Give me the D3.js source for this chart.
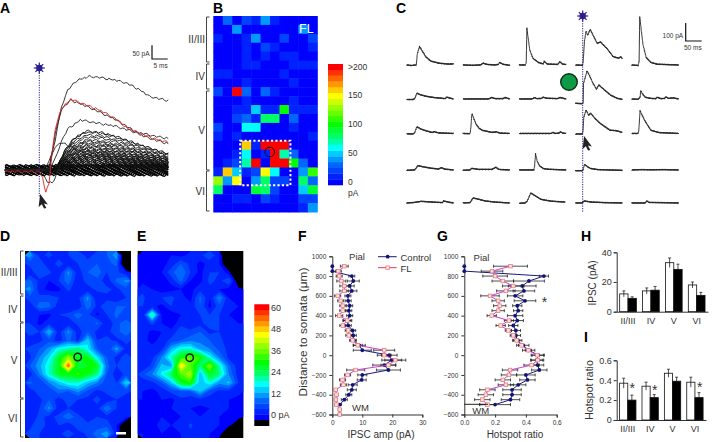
<!DOCTYPE html>
<html>
<head>
<meta charset="utf-8">
<script src="https://cdn.jsdelivr.net/npm/d3@7"></script>
<style>
  html, body { margin: 0; padding: 0; background: #fff; }
  svg { display: block; }
  text { font-family: "Liberation Sans", Arial, sans-serif; fill: #333; }
  .letter { font-size: 14px; font-weight: bold; fill: #000; }
  .axis path, .axis line { stroke: #333; stroke-width: 1; fill: none; }
  .axis text { font-size: 6.5px; fill: #333; }
</style>
</head>
<body>
<svg id="fig" width="716" height="442"></svg>
<script>
// ---- data ----
var layers = ["II/III", "IV", "V", "VI"];
var palette = ["#0000ff","#0022ff","#0044ff","#0066ff","#0099ff","#00ccff","#00ffff","#00ffaa","#00ff66","#00ff33",
  "#00ff00","#33ff00","#66ff00","#99ff00","#ccff00","#ffff00","#ffcc00","#ff9900","#ff6600","#ff3300","#ff0000"];

// panel A, [ms, pA]
var traceTop = [[-11,0],[0,0],[3,5],[5,109],[7,231],[9,292],[12,328],[16,341],[19,338],[24,328],[28,316],[32,292],[35,268],[41,253]];
var traceRed = [[-11,-6],[0,-6],[1,-30],[2,-83],[3,-50],[4,60],[5,150],[7,225],[10,258],[15,237],[19,219],[24,189],[28,152],[32,134],[36,116],[41,100]];
var traceSecond = [[-11,0],[3,0],[5,130],[7,222],[10,255],[15,232],[19,212],[24,185],[28,158],[32,128],[36,112],[41,96]];
var traceThird = [[-11,0],[0,0],[3,-5],[5,40],[7,105],[9,150],[13,182],[18,172],[24,160],[30,140],[36,125],[41,115]];
var traceDip = [[-11,-3],[1,-5],[2,-35],[3,-48],[4,-46],[5,-30],[6,5],[8,45],[11,60],[20,55],[30,35],[41,25]];
var traceEarly = [[-11,0],[1,0],[3,30],[5,85],[7,100],[10,85],[13,70],[20,62],[30,45],[41,30]];
var clusterShape = [[-11,0],[4,0],[6,0.15],[8,0.5],[11,0.82],[15,1],[20,0.96],[26,0.82],[33,0.62],[41,0.42]];
var clusterAmps = [142,138,128,120,110,104,98,92,88,82,78,74,70,66,62,58,55,52,50,48,45,42,40,38,35,32,30,28,25,22,20,18,15,12,10];
var baseOffsets = [-17,-14,-11,-8,-5,-2,1,4,7,10,13,16];
var noise = [2,-3,1,4,-2,-4,3,0,-1,3,-3,2,4,-1,-3,1];

// panel B, pA per cell
var mapB = [
  [0,30,0,25,10,40,15,0,0,0,0],
  [0,0,45,0,0,0,0,0,0,40,0],
  [15,0,0,10,40,0,0,20,0,0,25],
  [0,0,0,10,0,20,10,0,0,0,10],
  [0,0,0,10,0,10,0,10,15,0,0],
  [0,0,0,10,10,5,0,0,10,10,10],
  [15,15,0,0,0,0,5,15,0,0,0],
  [0,0,0,10,0,0,0,0,10,0,0],
  [25,0,200,35,0,35,15,0,5,0,0],
  [0,0,0,10,0,0,0,0,10,0,0],
  [0,0,15,15,50,15,15,100,15,15,15],
  [0,0,20,35,15,85,85,0,35,0,0],
  [25,0,0,65,65,0,0,0,10,0,0],
  [15,0,10,0,0,0,0,0,0,0,10],
  [0,0,0,160,15,200,200,200,0,0,0],
  [0,0,10,60,5,10,200,70,35,0,0],
  [0,10,20,75,200,5,200,200,100,30,0],
  [10,160,55,10,20,155,60,0,0,45,115],
  [135,45,155,0,45,85,20,20,0,85,30],
  [80,0,0,0,95,80,20,0,0,55,90],
  [0,0,15,15,0,25,10,0,0,20,20],
  [0,0,0,0,0,0,0,0,0,10,45]
];

// panel C, [ms, pA] per trace, row by row
var cellTraces = [
  [[0,0],[15,-3],[30,0],[33,60],[40,102],[48,80],[60,45],[75,22],[100,10],[130,5],[146,6]],
  [[0,0],[30,-2],[55,0],[63,10],[75,3],[100,0],[112,4],[114,15],[125,4],[146,-2]],
  [[0,0],[20,0],[22,20],[24,204],[28,150],[33,83],[43,37],[60,14],[75,6],[78,20],[88,5],[120,3],[127,18],[135,5],[146,2]],
  [[0,0],[22,-2],[24,20],[28,130],[33,190],[38,165],[46,198],[55,165],[68,120],[78,128],[98,92],[118,46],[135,38],[142,46],[146,36]],
  [[0,0],[20,-3],[23,20],[25,270],[30,190],[35,115],[45,42],[60,14],[80,4],[146,0]],

  [[0,-3],[20,-3],[25,2],[32,32],[42,24],[60,15],[85,8],[120,2],[125,10],[135,5],[146,0]],
  [[0,0],[80,0],[90,8],[100,2],[125,2],[132,8],[146,0]],
  [[0,0],[40,0],[48,8],[55,2],[70,3],[75,10],[85,4],[120,2],[128,8],[146,0]],
  [[0,-24],[18,-26],[24,-24],[25,86],[30,116],[36,156],[45,126],[55,86],[66,54],[73,78],[90,51],[110,21],[130,4],[146,-2]],
  [[0,0],[20,-2],[26,10],[28,46],[35,25],[42,10],[60,3],[75,2],[80,10],[90,2],[103,3],[107,12],[115,3],[130,6],[146,0]],

  [[0,-2],[20,-3],[25,5],[32,37],[45,24],[60,15],[80,5],[86,10],[100,3],[146,0]],
  [[0,0],[22,-1],[24,20],[28,111],[40,55],[50,30],[60,18],[90,6],[105,9],[115,2],[146,0]],
  [[0,0],[100,0],[105,6],[112,0],[125,2],[128,10],[136,2],[146,0]],
  [[0,-3],[20,-3],[23,5],[26,90],[33,130],[41,102],[48,112],[60,85],[78,55],[108,18],[125,16],[135,12],[146,5]],
  [[0,0],[20,0],[22,15],[26,126],[40,74],[50,45],[60,18],[85,5],[146,0]],

  [[0,-2],[25,0],[35,24],[50,18],[75,10],[100,5],[108,13],[118,5],[146,0]],
  [[0,-2],[22,0],[27,9],[50,3],[90,3],[103,15],[112,3],[146,0]],
  [[0,0],[46,0],[48,20],[51,90],[56,50],[63,24],[75,8],[90,4],[146,0]],
  [[0,-4],[22,-4],[24,2],[28,31],[40,15],[48,8],[70,2],[146,-2]],
  [[0,0],[30,2],[60,1],[100,2],[146,0]],

  [[0,0],[25,3],[45,9],[80,5],[112,2],[115,11],[130,5],[146,0]],
  [[0,0],[22,2],[32,28],[50,20],[70,11],[100,5],[146,0]],
  [[0,-2],[18,0],[25,10],[36,55],[50,40],[68,20],[100,10],[143,5]],
  [[0,0],[20,0],[28,11],[50,5],[90,2],[146,0]],
  [[0,0],[42,0],[47,11],[55,3],[90,2],[146,0]]
];

// panels D and E, pA at grid nodes, negative means not sampled
var mapD = [
  [14,5,7,4,6,8,5,7,9,14,-10],
  [7,9,3,8,4,6,7,9,8,10,-10],
  [4,9,7,3,13,4,9,11,6,7,3],
  [10,5,3,6,11,3,8,8,4,10,13],
  [13,4,2,2,7,3,4,7,7,5,8],
  [8,7,8,6,3,5,13,3,5,3,6],
  [3,11,10,4,3,3,11,5,8,9,9],
  [5,3,2,6,7,11,7,2,6,10,6],
  [6,2,5,3,4,7,6,10,3,8,11],
  [8,6,16,4,13,4,9,5,5,8,11],
  [4,5,8,4,10,5,17,6,7,5,7],
  [7,9,13,20,22,25,19,9,6,14,5],
  [5,12,18,29,40,30,30,18,9,5,7],
  [9,14,21,30,57,27,30,30,10,6,8],
  [4,12,21,30,30,34,30,24,9,4,7],
  [10,6,12,16,21,21,16,12,7,6,18],
  [4,8,6,11,9,13,8,5,7,6,7],
  [6,5,9,4,8,6,5,7,4,6,4],
  [4,6,13,4,6,4,6,5,12,6,5],
  [3,7,5,7,12,7,4,6,5,3,4],
  [5,9,4,6,3,9,7,7,8,3,-6],
  [7,6,3,5,9,4,7,11,14,4,-10]
];
var mapE = [
  [2,1,2,3,2,4,5,9,3,-8,-10],
  [3,1,2,4,9,5,2,4,3,-6,-10],
  [1,3,3,8,12,6,2,6,6,1,-8],
  [2,1,1,4,10,3,2,7,5,9,-4],
  [5,3,1,2,3,2,5,5,3,2,1],
  [7,3,6,7,4,2,10,3,13,3,2],
  [6,4,2,6,5,4,9,2,8,3,3],
  [3,25,3,1,3,3,6,6,6,3,1],
  [3,7,3,1,5,3,5,8,6,3,3],
  [5,2,3,4,8,7,9,5,6,3,3],
  [4,2,4,7,9,11,11,9,7,4,3],
  [6,4,5,15,21,21,14,12,8,5,3],
  [5,5,12,22,31,36,33,20,12,5,3],
  [3,7,16,14,49,36,25,40,22,10,4],
  [8,12,19,27,36,42,15,30,25,12,4],
  [4,5,9,16,30,33,15,21,13,16,6],
  [3,2,4,7,9,9,16,8,5,5,4],
  [3,2,3,2,5,4,5,4,3,3,2],
  [1,3,2,3,6,3,2,3,3,3,1],
  [2,1,3,2,3,3,3,5,3,2,1],
  [1,2,4,3,3,7,3,4,3,1,-3],
  [3,2,3,2,3,5,3,3,2,-8,-10]
];

// panels F and G, distance in um
var depthsCtrl = [900,850,800,750,700,650,600,550,500,450,400,350,300,250,200,150,100,50,0,-50,-100,-150,-200,-250,-300,-350,-400,-450,-500];
var depthsFL = [900,850,800,750,700,650,600,550,500,450,400,350,300,250,200,150,100,50,0,-50,-100,-150,-200,-250,-300,-350,-400,-450,-500,-550,-600];
var ampCtrl = [0,0,6.5,7,5.8,6.5,5.2,5.3,5.8,5.5,5.8,5,5.3,6.8,7,7,9,10,19,19.8,17.3,18.7,10,9.8,6.8,6.5,5.5,4,2.5];
var ampCtrlErr = [0,0,1,2,1.5,1.7,1,1,1,1,1,1.5,1,1,1,1,2,3,2.6,3.3,3.8,4,1.5,1.5,1.5,1.5,1,1,0.5];
var ampFL = [4,2,2.3,3,4,4,1.8,2.8,3.5,3.5,2.3,5,3.5,5.3,5.5,6.8,8.5,17.3,17.3,21,18.7,7.8,5.1,3.4,3.7,1.1,1.4,1.2,1.4,2.5,2.5];
var ampFLErr = [1.3,1,1,1.5,1.5,1.5,1,1,1,1,1.2,1.2,1,1,1,1,1.5,3.5,2.3,3.5,2.5,3,1,1,1,0.5,0.5,0.5,0.5,0.5,0.5];
var ratioCtrl = [0,0,0.517,0.42,0.376,0.387,0.33,0.394,0.344,0.35,0.33,0.344,0.318,0.335,0.335,0.344,0.38,0.418,0.48,0.47,0.476,0.487,0.4,0.41,0.35,0.31,0.31,0.3,0.2];
var ratioCtrlErr = [0,0,0.03,0.1,0.09,0.07,0.05,0.07,0.03,0.03,0.05,0.04,0.03,0.03,0.03,0.03,0.04,0.04,0.04,0.04,0.04,0.05,0.06,0.05,0.05,0.06,0.06,0.06,0.1];
var ratioFL = [0.3,0.18,0.2,0.25,0.318,0.27,0.167,0.22,0.23,0.22,0.178,0.29,0.236,0.286,0.318,0.34,0.372,0.416,0.474,0.476,0.437,0.297,0.29,0.25,0.27,0.15,0.14,0.117,0.15];
var ratioFLErr = [0.11,0.07,0.08,0.07,0.07,0.06,0.06,0.04,0.04,0.04,0.03,0.03,0.03,0.02,0.02,0.02,0.02,0.02,0.04,0.04,0.05,0.05,0.05,0.05,0.05,0.05,0.05,0.05,0.05];

// panels H and I
var ipscCtrl = [12,14,33,18];
var ipscCtrlErr = [2,2,3.2,2];
var ipscFL = [9,14.5,28.5,11];
var ipscFLErr = [1,2.5,3.5,2];
var hotCtrl = [0.37,0.34,0.47,0.38];
var hotCtrlErr = [0.05,0.04,0.04,0.05];
var hotFL = [0.2,0.225,0.39,0.225];
var hotFLErr = [0.05,0.03,0.04,0.05];

// ---- drawing ----
var svg = d3.select("#fig");

var defs = svg.append("defs");
defs.append("filter").attr("id", "soft").append("feGaussianBlur").attr("stdDeviation", 0.35);
defs.append("filter").attr("id", "softer").append("feGaussianBlur").attr("stdDeviation", 0.4);

var label = function(x, y, str, size, anchor, rot){
  var t = svg.append("text")
    .attr("text-anchor", anchor || "start")
    .style("font-size", (size || 9) + "px")
    .text(str);
  if(rot){
    t.attr("transform", "translate("+x+","+y+"), rotate("+rot+")");
  } else {
    t.attr("x", x).attr("y", y);
  }
  return t;
}

var letter = function(x, y, str){
  svg.append("text").attr("class", "letter").attr("x", x).attr("y", y).text(str);
}

var stimMark = function(x, y0, y1){
  svg.append("line")
    .attr("x1", x).attr("x2", x).attr("y1", y0).attr("y2", y1)
    .attr("stroke", "#2b1f8f").attr("stroke-width", 1).attr("stroke-dasharray", "1.2,1.2");
  var g = svg.append("g").attr("transform", "translate("+x+","+y0+")");
  g.selectAll("line").data(d3.range(8)).enter().append("line")
    .attr("x2", 5.5).attr("stroke", "#2b1f8f").attr("stroke-width", 1.2)
    .attr("transform", function(d){ return "rotate("+(d*45)+")"; });
  g.append("circle").attr("r", 3.2).attr("fill", "#2b1f8f");
}

var arrowHead = function(x, y){
  svg.append("path")
    .attr("transform", "translate("+x+","+y+") rotate(-15) scale(1.2)")
    .attr("d", "M0,-6L4,4L1,2.5L2,6.5L0,6.5L-0.8,2.5L-4,4Z")
    .attr("fill", "#222");
}

var scaleBar = function(x, y, w, h, t1, t2){
  svg.append("path")
    .attr("d", "M"+x+","+(y-h)+"V"+y+"H"+(x+w))
    .attr("fill", "none").attr("stroke", "#111").attr("stroke-width", 1.2);
  label(x-2.5, y-3, t1, 6.5, "end");
  label(x+w, y+9, t2, 6.5, "end");
}

var bracket = function(x, spans, names, labelX){
  spans.forEach(function(s, i){
    svg.append("path")
      .attr("d", "M"+(x+3)+","+s[0]+"H"+x+"V"+s[1]+"H"+(x+3))
      .attr("fill", "none").attr("stroke", "#444").attr("stroke-width", 1);
    label(labelX, (s[0]+s[1])/2+3.5, names[i], 10, "end");
  });
}

// ---- A ----
var xA = d3.scaleLinear().domain([0, 5]).range([39.5, 55.2]);
var yA = d3.scaleLinear().domain([0, 50]).range([170, 156.3]);
var lineA = d3.line().x(function(d){ return xA(d[0]); }).y(function(d){ return yA(d[1]); });
var gA = svg.append("g").attr("fill", "none").attr("filter", "url(#soft)");

var jittered = function(points, k){
  // fill the read points with short steps so the trace looks sampled
  var out = [];
  points.forEach(function(p, i){
    if(i == 0){ out.push(p); return; }
    var q = points[i-1];
    var n = Math.max(1, Math.round((p[0]-q[0])/0.6));
    d3.range(1, n+1).forEach(function(j){
      var f = j/n;
      out.push([q[0]+(p[0]-q[0])*f, q[1]+(p[1]-q[1])*f + noise[(out.length+k) % noise.length]]);
    });
  });
  return out;
}

baseOffsets.forEach(function(off, i){
  var flat = [[-11,off],[41,off*1.15]];
  gA.append("path").attr("d", lineA(jittered(flat, i))).attr("stroke", "#000").attr("stroke-width", 1.2);
});
clusterAmps.forEach(function(amp, i){
  var pts = clusterShape.map(function(s){ return [s[0], s[1]*amp]; });
  gA.append("path").attr("d", lineA(jittered(pts, i*3))).attr("stroke", "#111").attr("stroke-width", 0.9);
});
[traceTop, traceSecond, traceThird, traceDip, traceEarly].forEach(function(tr, i){
  gA.append("path").attr("d", lineA(jittered(tr, i))).attr("stroke", "#222").attr("stroke-width", 0.9);
});
gA.append("path").attr("d", lineA(jittered(traceRed, 5))).attr("stroke", "#d8231f").attr("stroke-width", 0.9);
stimMark(39.3, 68, 197);
arrowHead(42, 201);
scaleBar(152, 59, 15.7, 13.7, "50 pA", "5 ms");
letter(0, 13, "A");

// ---- B ----
var xB = d3.scaleBand().domain(d3.range(11)).range([213.3, 317.3]);
var yB = d3.scaleBand().domain(d3.range(22)).range([16, 212]);
var colorB = d3.scaleQuantize().domain([0, 210]).range(palette);
var rowsB = svg.append("g").selectAll("g").data(mapB).enter().append("g")
  .attr("transform", function(d, i){ return "translate(0,"+yB(i)+")"; });
rowsB.selectAll("rect").data(function(d){ return d; }).enter().append("rect")
  .attr("x", function(d, i){ return xB(i); })
  .attr("width", xB.bandwidth()+0.5)
  .attr("height", yB.bandwidth()+0.5)
  .attr("fill", function(d){ return colorB(d); });
svg.append("rect")
  .attr("x", xB(3)-1.5).attr("y", yB(14)).attr("width", xB.bandwidth()*5+3).attr("height", yB.bandwidth()*5)
  .attr("fill", "none").attr("stroke", "#fff").attr("stroke-width", 2).attr("stroke-dasharray", "2.2,2.2");
svg.append("circle").attr("cx", 269.7).attr("cy", 152).attr("r", 4.8)
  .attr("fill", "none").attr("stroke", "#111").attr("stroke-width", 1);
label(299, 33, "FL", 12.5).style("fill", "#fff");
bracket(206.5, [[17,62],[64,89],[91,170],[171,211]], layers, 205);
letter(213, 13, "B");

var barB = d3.scaleLinear().domain([0, 210]).range([185, 64]);
svg.append("g").selectAll("rect").data(palette).enter().append("rect")
  .attr("x", 328).attr("width", 15)
  .attr("y", function(d, i){ return barB((i+1)*10); })
  .attr("height", barB(0)-barB(10)+0.3)
  .attr("fill", function(d){ return d; });
[[">200",67],["150",95],["100",124],["50",153],["0",182]].forEach(function(d){
  svg.append("text").attr("x", 348).attr("y", d[1]+3).style("font-size", "8.5px").text(d[0]);
});
label(348, 196, "pA", 8.5);

// ---- C ----
var xC = d3.scaleBand().domain(d3.range(5)).range([406.7, 688]).paddingInner(0);
var rowBase = [65, 99, 133.5, 170, 203];
var tC = d3.scaleLinear().domain([0, 50]).range([0, 16]);
var vC = d3.scaleLinear().domain([0, 100]).range([0, -18]);
var lineC = d3.line().x(function(d){ return tC(d[0]); }).y(function(d){ return vC(d[1]); });
var gC = svg.append("g").attr("fill", "none").attr("filter", "url(#soft)");
gC.selectAll("path").data(cellTraces).enter().append("path")
  .attr("transform", function(d, i){
    return "translate("+(xC(i%5))+","+rowBase[Math.floor(i/5)]+")";
  })
  .attr("d", function(d, i){ return lineC(jittered(d, i)); })
  .attr("stroke", "#222").attr("stroke-width", 0.9);
stimMark(582.7, 16, 212);
arrowHead(586, 143);
svg.append("circle").attr("cx", 569).attr("cy", 82).attr("r", 8.3)
  .attr("fill", "#0d9b48").attr("stroke", "#0b2d16").attr("stroke-width", 1.4);
scaleBar(685.7, 41, 16, 18, "100 pA", "50 ms");
letter(396, 13, "C");

// ---- D, E ----
var levels = d3.range(0, 63, 3);
var heatMap = function(matrix, x0, x1, y0, y1){
  var flat = d3.merge(matrix);
  var cx = d3.scaleLinear().domain([0, 11]).range([x0, x1]);
  var cy = d3.scaleLinear().domain([0, 22]).range([y0, y1]);
  var path = d3.geoPath(d3.geoTransform({
    point: function(x, y){ this.stream.point(cx(x), cy(y)); }
  }));
  var conts = d3.contours().size([11, 22]).thresholds(levels)(flat);
  var g = svg.append("g").attr("filter", "url(#softer)");
  g.append("rect").attr("x", x0).attr("y", y0).attr("width", x1-x0).attr("height", y1-y0).attr("fill", "#000");
  g.selectAll("path").data(conts).enter().append("path")
    .attr("d", path)
    .attr("fill", function(d){ return palette[Math.min(levels.indexOf(d.value), palette.length-1)]; });
}
heatMap(mapD, 25, 131, 251, 438);
heatMap(mapE, 137.7, 243.3, 251, 438);
svg.append("circle").attr("cx", 77.7).attr("cy", 357).attr("r", 3.7)
  .attr("fill", "none").attr("stroke", "#0a1a0a").attr("stroke-width", 1.5);
svg.append("circle").attr("cx", 189.7).attr("cy", 357.7).attr("r", 3.7)
  .attr("fill", "none").attr("stroke", "#0a1a0a").attr("stroke-width", 1.5);
svg.append("rect").attr("x", 116).attr("y", 432).attr("width", 10).attr("height", 2.5).attr("fill", "#fff");
bracket(20.5, [[251,294],[296,322],[323,398],[399,437]], layers, 17.5);
letter(0, 241, "D");
letter(137, 241, "E");

var barD = d3.scaleLinear().domain([0, 60]).range([417, 307]);
svg.append("g").selectAll("rect").data(palette).enter().append("rect")
  .attr("x", 254.3).attr("width", 15)
  .attr("y", function(d, i){ return barD(levels[i]+1.5); })
  .attr("height", barD(0)-barD(3)+0.3)
  .attr("fill", function(d){ return d; });
svg.append("rect").attr("x", 254.3).attr("y", 420).attr("width", 15).attr("height", 6).attr("fill", "#000");
[["60",308],["48",329],["36",351],["24",372],["12",394],["0 pA",415]].forEach(function(d){
  svg.append("text").attr("x", 271).attr("y", d[1]+3).style("font-size", "9px").text(d[0]);
});

// ---- F, G ----
var ctrlDot = function(g, x, y){
  g.append("circle").attr("cx", x).attr("cy", y).attr("r", 1.9).attr("fill", "#12127a");
}
var flSquare = function(g, x, y){
  g.append("rect").attr("x", x-1.8).attr("y", y-1.8).attr("width", 3.6).attr("height", 3.6)
    .attr("fill", "#fde3c8").attr("stroke", "#e0708c").attr("stroke-width", 0.7);
}
var profile = function(opts){
  var x = d3.scaleLinear().domain(opts.xDomain).range(opts.xRange);
  var y = d3.scaleLinear().domain([-600, 1000]).range([414.5, 256.3]);
  var g = svg.append("g");
  g.append("g").attr("class", "axis")
    .attr("transform", "translate("+opts.xRange[0]+",0)")
    .call(d3.axisLeft(y).tickValues(d3.range(-600, 1001, 200)).tickFormat(d3.format("d")).tickSize(3).tickPadding(3));
  g.append("g").attr("class", "axis")
    .attr("transform", "translate(0,414.5)")
    .call(d3.axisBottom(x).tickValues(opts.xTicks).tickFormat(opts.fmt).tickSize(3).tickPadding(3));

  var series = function(depths, vals, errs, lineColor, draw){
    var bars = g.append("g").attr("stroke", "#222").attr("stroke-width", 0.8);
    vals.forEach(function(v, i){
      if(!errs[i]) return;
      var y0 = y(depths[i]);
      bars.append("line").attr("x1", x(v-errs[i])).attr("x2", x(v+errs[i])).attr("y1", y0).attr("y2", y0);
      bars.append("line").attr("x1", x(v-errs[i])).attr("x2", x(v-errs[i])).attr("y1", y0-1.5).attr("y2", y0+1.5);
      bars.append("line").attr("x1", x(v+errs[i])).attr("x2", x(v+errs[i])).attr("y1", y0-1.5).attr("y2", y0+1.5);
    });
    g.append("path")
      .attr("d", d3.line().x(function(d){ return x(d); }).y(function(d, i){ return y(depths[i]); })(vals))
      .attr("fill", "none").attr("stroke", lineColor).attr("stroke-width", 1);
    vals.forEach(function(v, i){ draw(g, x(v), y(depths[i])); });
  }
  series(depthsCtrl, opts.ctrl, opts.ctrlErr, "#1a1a7a", ctrlDot);
  series(depthsFL.slice(0, opts.fl.length), opts.fl, opts.flErr, "#d33bd0", flSquare);
}

profile({ xDomain: [0, 30], xRange: [332.3, 422.3], xTicks: [0, 10, 20, 30], fmt: d3.format("d"),
  ctrl: ampCtrl, ctrlErr: ampCtrlErr, fl: ampFL, flErr: ampFLErr });
profile({ xDomain: [0, 0.6], xRange: [464.3, 556.7], xTicks: [0, 0.2, 0.4, 0.6], fmt: d3.format(".1f"),
  ctrl: ratioCtrl, ctrlErr: ratioCtrlErr, fl: ratioFL, flErr: ratioFLErr });

label(357, 260, "Pial", 9.5, "middle");
label(360.5, 411, "WM", 9.5, "middle");
label(307, 332, "Distance to somata (\u03bcm)", 11.8, "middle", -90);
label(381, 438, "IPSC amp (pA)", 10, "middle");
svg.append("line").attr("x1", 378).attr("x2", 396.7).attr("y1", 256.7).attr("y2", 256.7).attr("stroke", "#1a1a7a");
ctrlDot(svg, 387.7, 256.7);
svg.append("line").attr("x1", 378).attr("x2", 396.7).attr("y1", 267.7).attr("y2", 267.7).attr("stroke", "#d33b6a");
flSquare(svg, 387.7, 267.7);
label(400.5, 260.5, "Control", 9.5);
label(400.5, 271.5, "FL", 9.5);
letter(298, 241, "F");

label(481.5, 261, "Pial", 9.5, "middle");
label(480.7, 413.5, "WM", 9.5, "middle");
svg.append("line").attr("x1", 464.3).attr("x2", 488).attr("y1", 404.3).attr("y2", 404.3).attr("stroke", "#222");
label(544.5, 307, "*", 14, "middle");
label(515, 438, "Hotspot ratio", 10, "middle");
letter(437, 241, "G");

// ---- H, I ----
var barPanel = function(opts){
  var x = d3.scaleBand().domain(layers).range(opts.xRange).paddingInner(0.27).paddingOuter(0.13);
  var inner = d3.scaleBand().domain([0, 1]).range([0, x.bandwidth()]);
  var y = d3.scaleLinear().domain([0, opts.max]).range(opts.yRange);
  var g = svg.append("g");
  g.append("g").attr("class", "axis").attr("transform", "translate("+opts.xRange[0]+",0)")
    .call(d3.axisLeft(y).tickValues(opts.ticks).tickFormat(opts.fmt).tickSize(3).tickPadding(2));
  g.append("g").attr("class", "axis").attr("transform", "translate(0,"+opts.yRange[0]+")")
    .call(d3.axisBottom(x).tickSize(0).tickPadding(6));
  g.selectAll(".axis text").style("font-size", "9px");
  [[opts.ctrl, opts.ctrlErr, "#fff", 0], [opts.fl, opts.flErr, "#000", 1]].forEach(function(s){
    layers.forEach(function(l, i){
      var bx = x(l)+inner(s[3]);
      g.append("line")
        .attr("x1", bx+inner.bandwidth()/2).attr("x2", bx+inner.bandwidth()/2)
        .attr("y1", y(s[0][i]+s[1][i])).attr("y2", y(s[0][i]-(s[3]?0:s[1][i])))
        .attr("stroke", "#222").attr("stroke-width", 0.8);
      g.append("rect")
        .attr("x", bx).attr("y", y(s[0][i]))
        .attr("width", inner.bandwidth()).attr("height", y(0)-y(s[0][i]))
        .attr("fill", s[3] ? "#000" : "none")
        .attr("stroke", "#111").attr("stroke-width", 0.8);
      g.append("line")
        .attr("x1", bx+inner.bandwidth()/2-1.5).attr("x2", bx+inner.bandwidth()/2+1.5)
        .attr("y1", y(s[0][i]+s[1][i])).attr("y2", y(s[0][i]+s[1][i]))
        .attr("stroke", "#222").attr("stroke-width", 0.8);
    });
  });
}
barPanel({ xRange: [616.7, 708], yRange: [311.7, 252.3], max: 40, ticks: [0, 20, 40], fmt: d3.format("d"),
  ctrl: ipscCtrl, ctrlErr: ipscCtrlErr, fl: ipscFL, flErr: ipscFLErr });
barPanel({ xRange: [616.7, 706], yRange: [420, 360.3], max: 0.6, ticks: [0, 0.2, 0.4, 0.6],
  fmt: function(d){ return d === 0 ? "0" : d3.format(".1f")(d); },
  ctrl: hotCtrl, ctrlErr: hotCtrlErr, fl: hotFL, flErr: hotFLErr });
label(596, 283, "IPSC (pA)", 10, "middle", -90);
label(593, 390, "Hotspot ratio", 10.5, "middle", -90);
[632.3, 654.7, 699.7].forEach(function(x, i){
  label(x, [393, 395, 392][i], "*", 14, "middle");
});
letter(581, 241, "H");
letter(584, 342, "I");
</script>
</body>
</html>
